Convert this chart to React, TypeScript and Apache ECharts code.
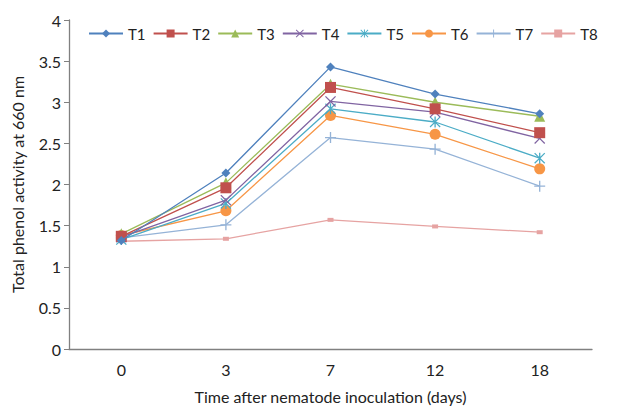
import React, { useEffect, useRef } from "react";
import * as echarts from "echarts";

const days = ["0", "3", "7", "12", "18"];
const seriesNames = ["T1", "T2", "T3", "T4", "T5", "T6", "T7", "T8"];
const t1 = [1.32, 2.14, 3.43, 3.1, 2.86];
const t2 = [1.37, 1.96, 3.18, 2.92, 2.63];
const t3 = [1.4, 2.02, 3.22, 3.0, 2.83];
const t4 = [1.36, 1.81, 3.01, 2.88, 2.56];
const t5 = [1.33, 1.77, 2.92, 2.76, 2.32];
const t6 = [1.38, 1.68, 2.84, 2.61, 2.19];
const t7 = [1.35, 1.51, 2.57, 2.43, 1.98];
const t8 = [1.31, 1.34, 1.57, 1.49, 1.42];
const yTicks = [0, 0.5, 1, 1.5, 2, 2.5, 3, 3.5, 4];

const colors = ["#4F81BD", "#C0504D", "#9BBB59", "#8064A2", "#4BACC6", "#F79646", "#95B3D7", "#E6A3A2"];

const plusPath = "path://M4.4,0 L5.6,0 L5.6,4.4 L10,4.4 L10,5.6 L5.6,5.6 L5.6,10 L4.4,10 L4.4,5.6 L0,5.6 L0,4.4 L4.4,4.4 Z";
const xPath = "path://M0.8,0 L5,4.2 L9.2,0 L10,0.8 L5.8,5 L10,9.2 L9.2,10 L5,5.8 L0.8,10 L0,9.2 L4.2,5 L0,0.8 Z";
const starPath = "path://M0.8,0 L4.4,3.6 L4.4,0 L5.6,0 L5.6,3.6 L9.2,0 L10,0.8 L5.8,5 L10,9.2 L9.2,10 L5.6,6.4 L5.6,10 L4.4,10 L4.4,6.4 L0.8,10 L0,9.2 L4.2,5 L0,0.8 Z";

const symbols: any[] = ["diamond", "rect", "triangle", xPath, starPath, "circle", plusPath, "rect"];
const sizes: any[] = [9, 11, 11, 11, 11, 11, 11, [6, 4]];

export default function App() {
  const ref = useRef<HTMLDivElement>(null);
  useEffect(() => {
    const chart = echarts.init(ref.current!, null, { renderer: "svg" });
    const data = [t1, t2, t3, t4, t5, t6, t7, t8];
    const font = "Lato, 'Noto Sans', sans-serif";
    chart.setOption({
      animation: false,
      textStyle: { fontFamily: font },
      legend: seriesNames.map((n, i) => ({
        top: 26,
        left: 88 + i * 64.6,
        padding: 0,
        itemWidth: 34,
        itemHeight: 10,
        textStyle: { fontSize: 15, color: "#222", fontFamily: font },
        data: [n],
      })),
      grid: { left: 69, top: 20, right: 28, bottom: 57 },
      xAxis: {
        type: "category",
        data: days,
        boundaryGap: true,
        axisLine: { lineStyle: { color: "#808080", width: 1.3 } },
        axisTick: { lineStyle: { color: "#808080" }, length: 5 },
        axisLabel: { fontSize: 16, color: "#222", margin: 12, fontFamily: font },
        name: "Time after nematode inoculation (days)",
        nameLocation: "middle",
        nameGap: 39,
        nameTextStyle: { fontSize: 16, color: "#222", fontFamily: font },
      },
      yAxis: {
        type: "value",
        min: 0,
        max: 4,
        interval: 0.5,
        splitLine: { show: false },
        axisLine: { show: true, lineStyle: { color: "#808080", width: 1.3 } },
        axisTick: { show: true, lineStyle: { color: "#808080" }, length: 5 },
        axisLabel: {
          fontSize: 16,
          color: "#222",
          margin: 8,
          fontFamily: font,
          formatter: (v: number) => (yTicks.includes(v) ? String(v) : ""),
        },
        name: "Total phenol activity at 660 nm",
        nameLocation: "middle",
        nameGap: 44,
        nameTextStyle: { fontSize: 16, color: "#222", fontFamily: font },
      },
      series: seriesNames.map((n, i) => ({
        name: n,
        type: "line",
        data: data[i],
        symbol: symbols[i],
        symbolSize: sizes[i],
        showAllSymbol: true,
        itemStyle: { color: colors[i] },
        lineStyle: { color: colors[i], width: 1.3 },
        z: 10 - i,
      })),
    });
    return () => chart.dispose();
  }, []);
  return (
    <div
      ref={ref}
      style={{ position: "fixed", left: 0, top: 0, width: 620, height: 409, background: "#fff" }}
    />
  );
}
